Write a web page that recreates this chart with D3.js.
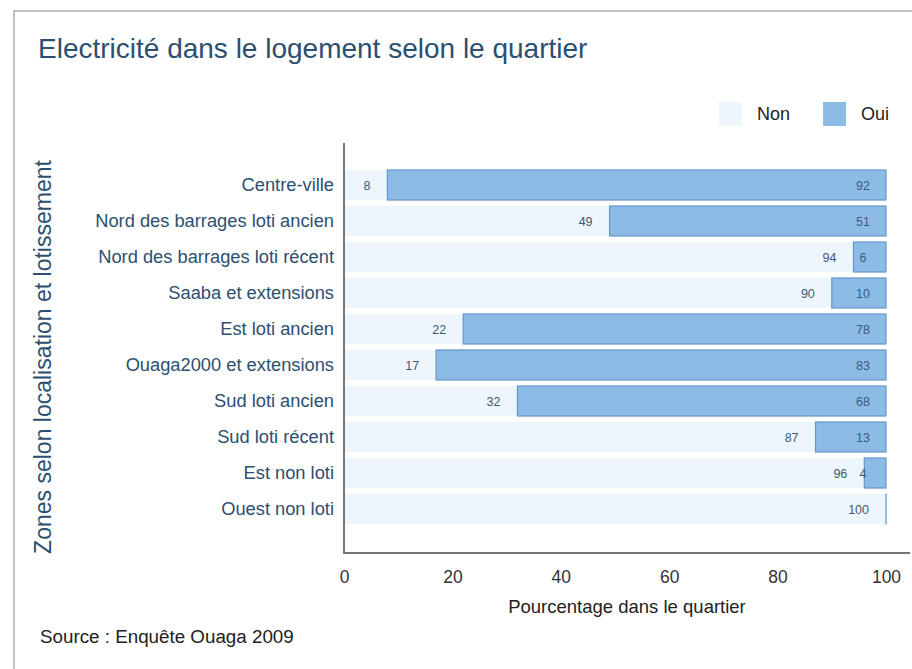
<!DOCTYPE html>
<html><head><meta charset="utf-8">
<script src="https://cdn.jsdelivr.net/npm/d3@7"></script>
<style>
body{margin:0;background:#fff;}
svg{display:block;font-family:"Liberation Sans",Arial,Helvetica,sans-serif;}
</style></head>
<body>
<svg id="chart" width="912" height="669"></svg>
<script>
const categories = ["Centre-ville","Nord des barrages loti ancien","Nord des barrages loti récent","Saaba et extensions","Est loti ancien","Ouaga2000 et extensions","Sud loti ancien","Sud loti récent","Est non loti","Ouest non loti"];
const nonValues = [8,49,94,90,22,17,32,87,96,100];
const ouiValues = [92,51,6,10,78,83,68,13,4,0];
const xTicks = [0,20,40,60,80,100];
const seriesNames = ["Non","Oui"];

const svg = d3.select("#chart");
const textCol = "#2c4f70";
const nonFill = "#eef6fd", ouiFill = "#8cbbe5", ouiStroke = "#6396c8";
const FF = "Liberation Sans, Arial, sans-serif";

// frame
svg.append("rect").attr("x",14).attr("y",11).attr("width",920).attr("height",700)
  .attr("fill","none").attr("stroke","#9a9a9a").attr("stroke-width",1.2);

svg.append("text").attr("x",38).attr("y",58).attr("font-size",28).attr("fill",textCol)
  .text("Electricité dans le logement selon le quartier");

const x = d3.scaleLinear().domain([0,100]).range([344,886]);
const y = d3.scaleBand().domain(categories).range([167,527]).paddingInner(1/6).paddingOuter(1/12);

// bars
const rows = categories.map((c,i)=>({c, non:nonValues[i], oui:ouiValues[i]}));
const g = svg.append("g");
g.selectAll(".non").data(rows).join("rect")
  .attr("x",x(0)+1).attr("y",d=>y(d.c)).attr("width",d=>x(d.non)-x(0)-1)
  .attr("height",y.bandwidth()).attr("fill",nonFill);
g.selectAll(".oui").data(rows).join("rect")
  .attr("x",d=>x(d.non)).attr("y",d=>y(d.c)).attr("width",d=>Math.max(0.01, x(d.non+d.oui)-x(d.non)))
  .attr("height",y.bandwidth()).attr("fill",ouiFill).attr("stroke",ouiStroke).attr("stroke-width",1.2);

// value labels
g.selectAll(".nl").data(rows).join("text")
  .attr("x",d=>x(d.non)-17).attr("y",d=>y(d.c)+y.bandwidth()/2+4.5)
  .attr("text-anchor","end").attr("font-size",12.5).attr("fill","#3d5a78").text(d=>d.non);
g.selectAll(".ol").data(rows.filter(d=>d.oui>0)).join("text")
  .attr("x",x(100)-23).attr("y",d=>y(d.c)+y.bandwidth()/2+4.5)
  .attr("text-anchor","middle").attr("font-size",12.5).attr("fill","#3d5a78").text(d=>d.oui);

// axes
const yAxis = svg.append("g").attr("transform",`translate(${x(0)},0)`)
  .call(d3.axisLeft(y).tickSize(0).tickPadding(10));
yAxis.select(".domain").remove();
yAxis.selectAll("text").attr("font-size",18.3).attr("fill",textCol).attr("font-family",FF);
svg.append("line").attr("x1",x(0)).attr("x2",x(0)).attr("y1",143).attr("y2",553).attr("stroke","#777").attr("stroke-width",2);

const xAxis = svg.append("g").attr("transform","translate(0,553)")
  .call(d3.axisBottom(x).tickValues(xTicks).tickSize(0).tickPadding(18));
xAxis.select(".domain").remove();
xAxis.selectAll("text").attr("font-size",17.5).attr("fill","#333").attr("font-family",FF);
svg.append("line").attr("x1",x(0)-1).attr("x2",910).attr("y1",553).attr("y2",553).attr("stroke","#777").attr("stroke-width",2);

svg.append("text").attr("x",627).attr("y",613).attr("text-anchor","middle").attr("font-size",18.5).attr("fill","#222")
  .text("Pourcentage dans le quartier");
svg.append("text").attr("transform","translate(51,357) rotate(-90)").attr("text-anchor","middle")
  .attr("font-size",23).attr("fill",textCol).text("Zones selon localisation et lotissement");

svg.append("text").attr("x",40).attr("y",643).attr("font-size",18.8).attr("fill","#222").text("Source : Enquête Ouaga 2009");

// legend
const leg = svg.append("g");
const legX = [719, 823];
seriesNames.forEach((n,i)=>{
  leg.append("rect").attr("x",legX[i]).attr("y",102).attr("width",23).attr("height",24)
    .attr("fill", i===0?nonFill:ouiFill);
  leg.append("text").attr("x",legX[i]+38).attr("y",120).attr("font-size",18).attr("fill","#222").text(n);
});
</script>
</body></html>
